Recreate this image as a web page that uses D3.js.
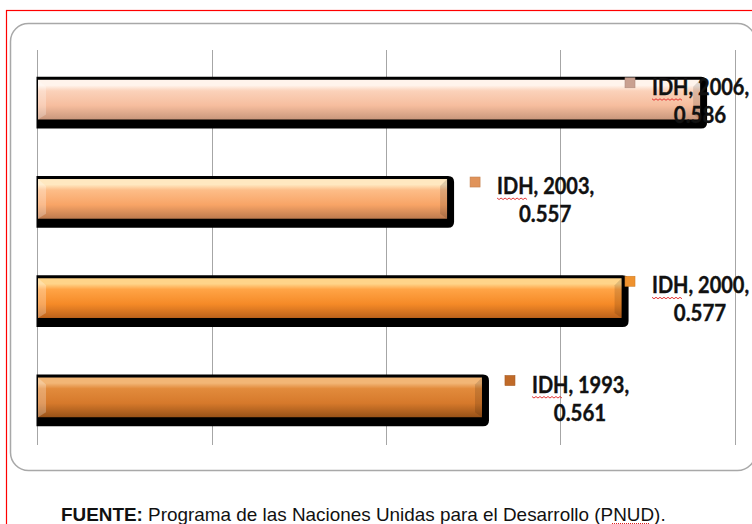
<!DOCTYPE html>
<html>
<head>
<meta charset="utf-8">
<script src="https://cdn.jsdelivr.net/npm/d3@7"></script>
<style>
  html, body { margin: 0; padding: 0; background: #fff; }
  svg { display: block; }
</style>
</head>
<body>
<script>
// chart data
var seriesName = "IDH";
var years = ["2006", "2003", "2000", "1993"];
var idh = [0.586, 0.557, 0.577, 0.561];
var xTicks = [0.51, 0.53, 0.55, 0.57, 0.59];
var sourceLabel = "FUENTE:";
var sourceText = " Programa de las Naciones Unidas para el Desarrollo (PNUD).";

// bar looks (top highlight, light, main, dark bottom, marker)
var palette = [
    ["#fff4ec", "#fbd2ba", "#f6bd9e", "#c9977c", "#c9a090"],
    ["#ffe8c0", "#fdbd88", "#f8a466", "#bd7a4e", "#e0935a"],
    ["#ffd489", "#ffa446", "#f58a27", "#bd621b", "#ef922e"],
    ["#f2b676", "#e28b3c", "#d6792b", "#985218", "#c06a28"]
];

var width = 752, height = 524;

var svg = d3.select("body").append("svg")
    .attr("width", width)
    .attr("height", height);

var defs = svg.append("defs");
palette.forEach(function(p, i) {
    var g = defs.append("linearGradient")
        .attr("id", "grad" + i)
        .attr("x1", 0).attr("y1", 0).attr("x2", 0).attr("y2", 1);
    g.append("stop").attr("offset", "0%").attr("stop-color", p[0]);
    g.append("stop").attr("offset", "14%").attr("stop-color", p[0]);
    g.append("stop").attr("offset", "28%").attr("stop-color", p[1]);
    g.append("stop").attr("offset", "65%").attr("stop-color", p[2]);
    g.append("stop").attr("offset", "100%").attr("stop-color", p[3]);
});

// outer red frame and rounded chart box
svg.append("rect")
    .attr("x", 6.5).attr("y", 10.5)
    .attr("width", 800).attr("height", 560)
    .attr("fill", "none")
    .attr("stroke", "#ff0000")
    .attr("stroke-width", 1.2);

svg.append("rect")
    .attr("x", 10.5).attr("y", 23.5)
    .attr("width", 745).attr("height", 447)
    .attr("rx", 18).attr("ry", 18)
    .attr("fill", "#fff")
    .attr("stroke", "#a8a8a8")
    .attr("stroke-width", 1.5);

var x = d3.scaleLinear().domain([0.51, 0.59]).range([37, 735]);
var y = d3.scaleBand().domain(years).range([50, 447]).paddingInner(0.6).paddingOuter(0.3);

// vertical gridlines
svg.append("g")
    .selectAll("line")
    .data(xTicks)
    .enter().append("line")
    .attr("x1", function(d) { return Math.round(x(d)) + 0.5; })
    .attr("x2", function(d) { return Math.round(x(d)) + 0.5; })
    .attr("y1", 50)
    .attr("y2", 445)
    .attr("stroke", "#a6a6a6")
    .attr("stroke-width", 1);

var bars = svg.append("g")
    .selectAll("g")
    .data(years)
    .enter().append("g");

// black shadow behind each bar, rounded on the right
bars.append("path")
    .attr("d", function(d, i) {
        var x0 = x(0.51) - 0.5, x1 = x(idh[i]) + 7;
        var t = y(d) - 3, b = y(d) + y.bandwidth() + 9, r = 6;
        return "M" + x0 + "," + t + "H" + (x1 - r) +
            "Q" + x1 + "," + t + " " + x1 + "," + (t + r) +
            "V" + (b - r) + "Q" + x1 + "," + b + " " + (x1 - r) + "," + b +
            "H" + x0 + "Z";
    })
    .attr("fill", "#000");

bars.append("rect")
    .attr("x", x(0.51) + 1)
    .attr("y", function(d) { return y(d); })
    .attr("width", function(d, i) { return x(idh[i]) - x(0.51) - 1; })
    .attr("height", y.bandwidth())
    .attr("fill", function(d, i) { return "url(#grad" + i + ")"; });

// bevel on the left and right edges
bars.append("path")
    .attr("d", function(d) {
        var x0 = x(0.51) + 1, t = y(d), b = y(d) + y.bandwidth();
        return "M" + x0 + "," + t + "L" + (x0 + 8) + "," + (t + 7) +
            "L" + (x0 + 8) + "," + (b - 5) + "L" + x0 + "," + b + "Z";
    })
    .attr("fill", "#fff")
    .attr("opacity", 0.25);

bars.append("path")
    .attr("d", function(d, i) {
        var x1 = x(idh[i]), t = y(d), b = y(d) + y.bandwidth();
        return "M" + x1 + "," + t + "L" + (x1 - 7) + "," + (t + 7) +
            "L" + (x1 - 7) + "," + (b - 5) + "L" + x1 + "," + b + "Z";
    })
    .attr("fill", "#000")
    .attr("opacity", 0.12);

// data labels with legend key
var labels = bars.append("g")
    .attr("transform", function(d, i) {
        var mx = Math.min(x(idh[i]) + 23, 625);
        return "translate(" + mx + "," + y(d) + ")";
    });

labels.append("rect")
    .attr("x", 0).attr("y", -2)
    .attr("width", 10).attr("height", 10)
    .attr("fill", function(d, i) { return palette[i][4]; })
    .attr("stroke", function(d, i) { return d3.color(palette[i][4]).darker(0.4); })
    .attr("stroke-width", 0.6);

var textFont = "Lato, 'Open Sans', sans-serif";

labels.append("text")
    .attr("transform", "translate(27,15) scale(1,1.12)")
    .attr("font-family", textFont)
    .attr("font-weight", 700)
    .attr("font-size", 20)
    .attr("fill", "#111")
    .attr("stroke", "#111")
    .attr("stroke-width", 0.35)
    .text(function(d) { return seriesName + ", " + d + ","; });

labels.append("text")
    .attr("transform", "translate(75,43) scale(1,1.12)")
    .attr("text-anchor", "middle")
    .attr("font-family", textFont)
    .attr("font-weight", 700)
    .attr("font-size", 20.5)
    .attr("fill", "#111")
    .attr("stroke", "#111")
    .attr("stroke-width", 0.35)
    .text(function(d, i) { return d3.format(".3f")(idh[i]); });

// spellcheck squiggle under IDH
function squiggle(x0, x1, yy) {
    var p = "M" + x0 + "," + yy, k = 0;
    for (var xx = x0 + 2; xx <= x1; xx += 2) {
        k++;
        p += "L" + xx + "," + (yy + (k % 2 ? 1.5 : 0));
    }
    return p;
}

labels.append("path")
    .attr("d", squiggle(27, 58, 19))
    .attr("fill", "none")
    .attr("stroke", "#e02020")
    .attr("stroke-width", 0.9);

// source line
var src = svg.append("text")
    .attr("transform", "translate(61,521) scale(1.08,1)")
    .attr("font-family", "'Liberation Sans', Arial, sans-serif")
    .attr("font-size", 17.5)
    .attr("fill", "#111");
src.append("tspan").attr("font-weight", 700).text(sourceLabel);
src.append("tspan").text(sourceText);

// dotted mark under PNUD
svg.append("line")
    .attr("x1", 612).attr("x2", 650)
    .attr("y1", 523.5).attr("y2", 523.5)
    .attr("stroke", "#e02020")
    .attr("stroke-width", 1)
    .attr("stroke-dasharray", "1,1");
</script>
</body>
</html>
